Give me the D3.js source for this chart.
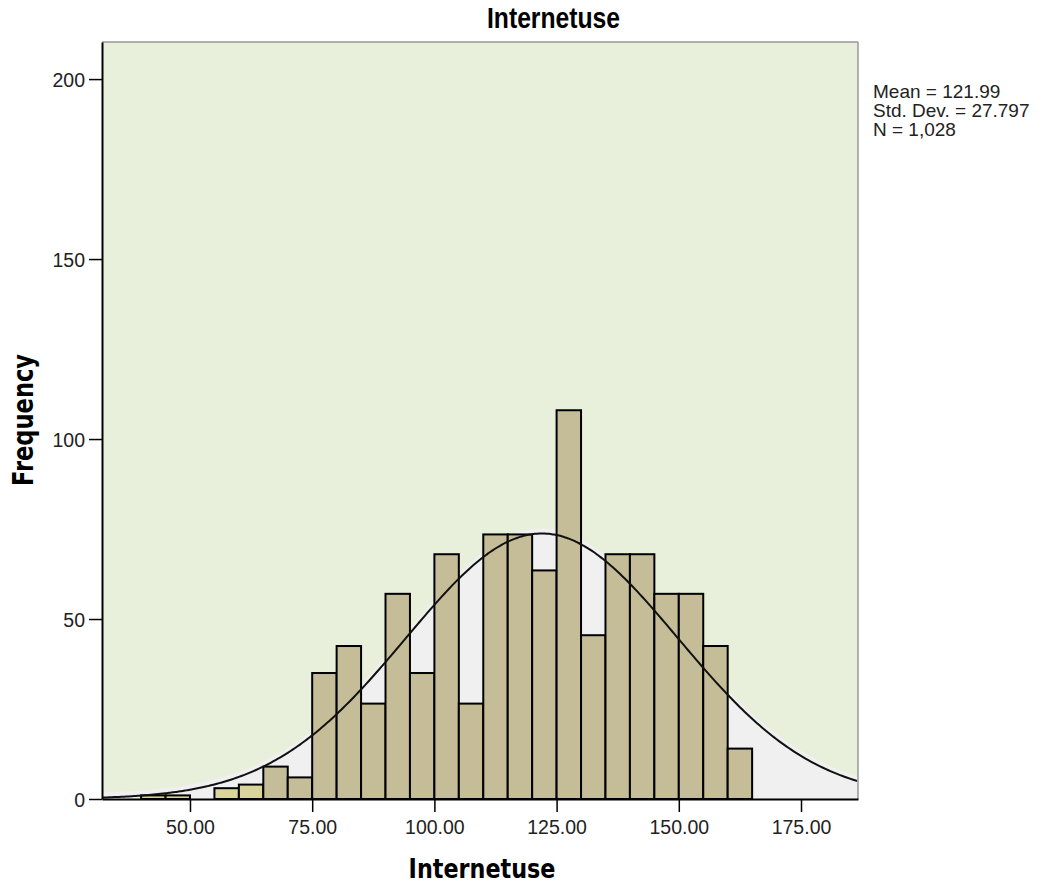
<!DOCTYPE html>
<html><head><meta charset="utf-8">
<script src="https://cdn.jsdelivr.net/npm/d3@7"></script>
<style>body{margin:0;background:#fff;} svg{display:block;font-family:"Liberation Sans",Arial,sans-serif;}</style>
</head><body><svg id="c" width="1050" height="888"></svg>
<script>
const binStarts = [40,45,50,55,60,65,70,75,80,85,90,95,100,105,110,115,120,125,130,135,140,145,150,155,160];
const frequencies = [1,1,0,3,4,9,6,35,42.5,26.5,57,35,68,26.5,73.5,73.5,63.5,108,45.5,68,68,57,57,42.5,14];
const binWidth = 5;
const xTicks = [50,75,100,125,150,175];
const yTicks = [0,50,100,150,200];
const statLabels = ["Mean = 121.99","Std. Dev. = 27.797","N = 1,028"];
const mean = 121.99, sd = 27.797, n = 1028;

const svg = d3.select("#c");
const L=102, R=858, T=42, B=799;
const x = d3.scaleLinear().domain([32.0,186.66]).range([L,R]);
const y = d3.scaleLinear().domain([0,210.3]).range([B,T]);

// background
svg.append("rect").attr("x",L).attr("y",T).attr("width",R-L).attr("height",B-T).attr("fill","#E8F0DC");
// normal curve
const pdf = v => n*binWidth/(sd*Math.sqrt(2*Math.PI))*Math.exp(-0.5*((v-mean)/sd)**2);
const xs = d3.range(x.domain()[0], x.domain()[1]+0.01, 0.5);
svg.append("path").datum(xs)
  .attr("d", d3.area().x(d=>x(d)).y0(B).y1(d=>y(pdf(d))-5))
  .attr("fill","#F0F0F0");

// bars
const bars = binStarts.map((s,i)=>({s, f: frequencies[i]})).filter(d=>d.f>0);
svg.append("g").selectAll("rect").data(bars).join("rect")
  .attr("x", d=>x(d.s)).attr("width", d=>x(d.s+binWidth)-x(d.s))
  .attr("y", d=>y(d.f)).attr("height", d=>y(0)-y(d.f))
  .attr("fill", d=> d.s<65 ? "#D8D49A" : "#C4BD97")
  .attr("stroke","#000").attr("stroke-width",2);

svg.append("path").datum(xs)
  .attr("d", d3.line().x(d=>x(d)).y(d=>y(pdf(d))).curve(d3.curveBasis))
  .attr("fill","none").attr("stroke","#111").attr("stroke-width",2);

// frame
svg.append("line").attr("x1",L).attr("x2",R).attr("y1",T).attr("y2",T).attr("stroke","#999").attr("stroke-width",1.5);
svg.append("line").attr("x1",R).attr("x2",R).attr("y1",T).attr("y2",B).attr("stroke","#999").attr("stroke-width",1.5);

// axes
const xa = svg.append("g").attr("transform",`translate(0,${B})`)
  .call(d3.axisBottom(x).tickValues(xTicks).tickFormat(d3.format(".2f")).tickSize(13).tickSizeOuter(0));
const ya = svg.append("g").attr("transform",`translate(${L},0)`)
  .call(d3.axisLeft(y).tickValues(yTicks).tickSize(13).tickSizeOuter(0));
[xa,ya].forEach(g=>{
  g.select(".domain").attr("stroke","#000").attr("stroke-width",2);
  g.selectAll(".tick line").attr("stroke","#000").attr("stroke-width",1.5);
  g.selectAll(".tick text").attr("font-size",19.5).attr("fill","#222").attr("font-family","'Liberation Sans',Arial,sans-serif");
});
xa.selectAll(".tick text").attr("dy","0.95em");
ya.selectAll(".tick text").attr("dx","-1px").attr("dy","0.36em");

// titles
svg.append("text").attr("transform","translate(553.5,28) scale(1,1.19)").attr("text-anchor","middle")
  .attr("font-size",24.7).attr("font-weight","bold").attr("font-family","'Liberation Sans',Arial,sans-serif").text("Internetuse");
svg.append("text").attr("transform","translate(482,878) scale(1,1.22)").attr("text-anchor","middle")
  .attr("font-size",22.3).attr("font-weight","bold").attr("font-family","'DejaVu Sans',sans-serif").text("Internetuse");
svg.append("text").attr("transform","translate(33,420) rotate(-90) scale(1,1.22)").attr("text-anchor","middle")
  .attr("font-size",22.6).attr("font-weight","bold").attr("font-family","'DejaVu Sans',sans-serif").text("Frequency");

svg.append("g").selectAll("text").data(statLabels).join("text")
  .attr("x",873).attr("y",(d,i)=>98+i*19).attr("font-size",19).attr("fill","#222").text(d=>d);
</script></body></html>
